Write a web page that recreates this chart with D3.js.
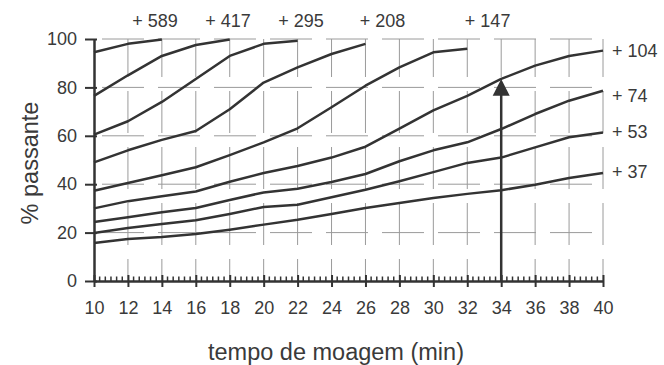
<!DOCTYPE html>
<html>
<head>
<meta charset="utf-8">
<script src="https://cdn.jsdelivr.net/npm/d3@7"></script>
<style>
  body { margin: 0; background: #fff; }
  text { font-family: "Liberation Sans", Arial, sans-serif; fill: #3a3a3a; }
</style>
</head>
<body>
<svg id="chart" width="664" height="365"></svg>
<script>
// grinding time (min) and % passing for each sieve size (um)
const minutes = [10, 12, 14, 16, 18, 20, 22, 24, 26, 28, 30, 32, 34, 36, 38, 40];
const pass589 = [94.5, 98, 99.8];
const pass417 = [76.5, 85, 93, 97.5, 99.8];
const pass295 = [60.5, 66, 74, 83.5, 93, 98, 99.3];
const pass208 = [49, 54, 58.3, 62, 71, 82, 88.3, 93.8, 98];
const pass147 = [37.3, 40.5, 43.7, 47, 52, 57.3, 63.1, 71.8, 80.7, 88.3, 94.5, 96];
const pass104 = [30, 33, 35, 37, 41, 44.6, 47.5, 51, 55.5, 63, 70.5, 76.5, 83.5, 89, 93, 95.2];
const pass74 = [24.4, 26.3, 28.4, 30.2, 33.5, 36.6, 38.1, 40.9, 44.2, 49.5, 54, 57.3, 62.8, 69, 74.5, 78.6];
const pass53 = [19.8, 21.9, 23.6, 25.1, 27.7, 30.6, 31.5, 34.6, 37.7, 41.2, 45, 48.8, 51, 55.2, 59.4, 61.4];
const pass37 = [15.7, 17.4, 18.2, 19.4, 21.2, 23.3, 25.3, 27.7, 30.2, 32.2, 34.3, 36, 37.5, 39.8, 42.6, 44.6];

const xTicks = [10, 12, 14, 16, 18, 20, 22, 24, 26, 28, 30, 32, 34, 36, 38, 40];
const yTicks = [0, 20, 40, 60, 80, 100];

// labels above the plot (x in minutes) and right of it (y in %)
const topLabels = [["+ 589", 13.6], ["+ 417", 17.9], ["+ 295", 22.2], ["+ 208", 27.0], ["+ 147", 33.2]];
const rightLabels = [["+ 104", 95], ["+ 74", 76.5], ["+ 53", 61.5], ["+ 37", 45]];

// arrow at 34 min pointing at the +104 curve
const arrowMinute = 34;
const arrowValue = 83.5;

const series = [pass589, pass417, pass295, pass208, pass147, pass104, pass74, pass53, pass37]
  .map(vals => vals.map((v, i) => ({ t: minutes[i], v: v })));

const svg = d3.select("#chart");
const ink = "#333";

const x = d3.scaleLinear().domain([10, 40]).range([94, 603]);
const y = d3.scaleLinear().domain([0, 100]).range([281, 39]);

// dashed grid
const grid = svg.append("g")
  .attr("stroke", "#9a9a9a")
  .attr("stroke-width", 1)
  .attr("stroke-dasharray", "42,14");

grid.selectAll(".hgrid")
  .data(yTicks.filter(d => d > 0))
  .enter().append("line")
  .attr("x1", x(10)).attr("x2", x(40))
  .attr("y1", d => y(d)).attr("y2", d => y(d))
  .attr("stroke-dashoffset", -8);

grid.selectAll(".vgrid")
  .data(xTicks.filter(d => d > 10))
  .enter().append("line")
  .attr("x1", d => x(d)).attr("x2", d => x(d))
  .attr("y1", y(0)).attr("y2", y(100))
  .attr("stroke-dashoffset", 20);

// curves
const line = d3.line().x(d => x(d.t)).y(d => y(d.v));

svg.append("g").selectAll("path")
  .data(series)
  .enter().append("path")
  .attr("d", line)
  .attr("fill", "none")
  .attr("stroke", ink)
  .attr("stroke-width", 2.5)
  .attr("stroke-linejoin", "round");

// arrow
svg.append("line")
  .attr("x1", x(arrowMinute)).attr("x2", x(arrowMinute))
  .attr("y1", y(0)).attr("y2", y(arrowValue - 6))
  .attr("stroke", ink)
  .attr("stroke-width", 2.5);

svg.append("path")
  .attr("d", `M${x(arrowMinute)},${y(arrowValue)} L${x(arrowMinute) + 8.5},${y(arrowValue - 7)} L${x(arrowMinute) - 8.5},${y(arrowValue - 7)} Z`)
  .attr("fill", ink);

// y axis
const yAxis = svg.append("g")
  .attr("transform", `translate(${x(10)},0)`)
  .call(d3.axisLeft(y).tickValues(yTicks).tickSize(9).tickSizeOuter(0).tickPadding(8));
yAxis.select(".domain").attr("stroke", ink).attr("stroke-width", 2.5);
yAxis.selectAll(".tick line").attr("stroke", ink).attr("stroke-width", 2).attr("x2", -9).attr("x1", 3);
yAxis.selectAll(".tick text").style("font-size", "18px").attr("fill", "#3a3a3a");

// x axis
const xAxis = svg.append("g")
  .attr("transform", `translate(0,${y(0)})`)
  .call(d3.axisBottom(x).tickValues(xTicks).tickSize(6).tickSizeOuter(0).tickPadding(14));
xAxis.select(".domain").attr("stroke", ink).attr("stroke-width", 2.5);
xAxis.selectAll(".tick line").attr("stroke", ink).attr("stroke-width", 2).attr("y1", -6);
xAxis.selectAll(".tick text").style("font-size", "18px").attr("fill", "#3a3a3a");

// minor ticks every 20 s
const minorTicks = d3.range(0, 91).map(i => 10 + i / 3).filter((d, i) => i % 6 !== 0);
xAxis.selectAll(".minor")
  .data(minorTicks)
  .enter().append("line")
  .attr("x1", d => x(d)).attr("x2", d => x(d))
  .attr("y1", 0).attr("y2", -4.5)
  .attr("stroke", ink)
  .attr("stroke-width", 1.5);

// curve labels
svg.selectAll(".toplabel")
  .data(topLabels)
  .enter().append("text")
  .attr("x", d => x(d[1]))
  .attr("y", 27)
  .attr("text-anchor", "middle")
  .style("font-size", "18px")
  .text(d => d[0]);

svg.selectAll(".rightlabel")
  .data(rightLabels)
  .enter().append("text")
  .attr("x", 612)
  .attr("y", d => y(d[1]))
  .attr("dy", "0.35em")
  .style("font-size", "18px")
  .text(d => d[0]);

// axis titles
svg.append("text")
  .attr("transform", "translate(38,163) rotate(-90)")
  .attr("text-anchor", "middle")
  .style("font-size", "23.5px")
  .text("% passante");

svg.append("text")
  .attr("x", 336)
  .attr("y", 360)
  .attr("text-anchor", "middle")
  .style("font-size", "23.5px")
  .text("tempo de moagem (min)");
</script>
</body>
</html>
